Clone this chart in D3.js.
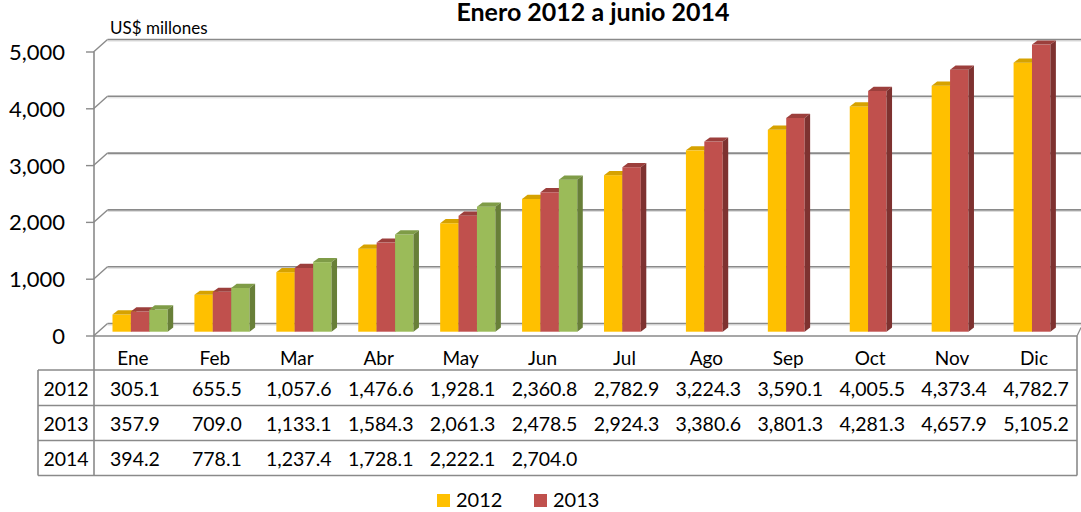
<!DOCTYPE html>
<html>
<head>
<meta charset="utf-8">
<script src="https://cdn.jsdelivr.net/npm/d3@7"></script>
<style>
  body { margin: 0; background: #fff; }
  svg text { font-family: Lato, "Noto Sans", sans-serif; fill: #000; }
</style>
</head>
<body>
<div id="chart"></div>
<script>
var months = ['Ene', 'Feb', 'Mar', 'Abr', 'May', 'Jun', 'Jul', 'Ago', 'Sep', 'Oct', 'Nov', 'Dic'];
var years = ['2012', '2013', '2014'];
var v2012 = [305.1, 655.5, 1057.6, 1476.6, 1928.1, 2360.8, 2782.9, 3224.3, 3590.1, 4005.5, 4373.4, 4782.7];
var v2013 = [357.9, 709.0, 1133.1, 1584.3, 2061.3, 2478.5, 2924.3, 3380.6, 3801.3, 4281.3, 4657.9, 5105.2];
var v2014 = [394.2, 778.1, 1237.4, 1728.1, 2222.1, 2704.0];
var yTicks = [0, 1000, 2000, 3000, 4000, 5000];
var legendYears = ['2012', '2013'];

var series = [v2012, v2013, v2014];
var front = ['#FFC000', '#C0504D', '#9BBB59'];
var topC = ['#D6A200', '#9C3F3C', '#7F9C47'];
var sideC = ['#B08500', '#7E3230', '#687F38'];

var W = 1081, H = 512;
var svg = d3.select('#chart').append('svg')
  .attr('width', W).attr('height', H);

var x0 = 94, x1 = 1077;
var dxW = 13.5, dyW = -12.5;   // wall depth
var grid = '#8a8a8a';

var x = d3.scaleBand().domain(months).range([x0, x1]);
var xs = d3.scaleBand().domain(years).range([0, 55.2]);
var yAxis = d3.scaleLinear().domain([0, 5000]).range([336, 52]);
var yBar = d3.scaleLinear().domain([0, 5000]).range([331.7, 50.5]);

// title
svg.append('text').attr('x', 593).attr('y', 21).attr('text-anchor', 'middle')
  .attr('font-size', 25).attr('font-weight', 'bold').text('Enero 2012 a junio 2014');
svg.append('text').attr('x', 110).attr('y', 34).attr('font-size', 17).text('US$ millones');

// back wall gridlines
var g = svg.append('g');
yTicks.forEach(function(t) {
  var yf = yAxis(t), yb = yf + dyW;
  g.append('line').attr('x1', x0 + dxW).attr('x2', W).attr('y1', yb + 1.5).attr('y2', yb + 1.5)
    .attr('stroke', '#d9d9d9').attr('stroke-width', 1);
  g.append('line').attr('x1', x0 + dxW).attr('x2', W).attr('y1', yb).attr('y2', yb)
    .attr('stroke', grid).attr('stroke-width', 1.6);
  g.append('line').attr('x1', x0 - 0.5).attr('y1', yf).attr('x2', x0 + dxW).attr('y2', yb)
    .attr('stroke', grid).attr('stroke-width', 1.4);
  g.append('line').attr('x1', x0 - 8).attr('x2', x0).attr('y1', yf).attr('y2', yf)
    .attr('stroke', grid).attr('stroke-width', 1.4);
  g.append('text').attr('x', 65).attr('y', yf + 8).attr('text-anchor', 'end')
    .attr('font-size', 22).text(d3.format(',')(t));
});

// bars
var dxB = 5.5, dyB = -4.2;
series.forEach(function(vals, s) {
  var bars = svg.append('g').selectAll('g').data(vals).enter().append('g');
  bars.each(function(v, i) {
    var sel = d3.select(this);
    var bx = x(months[i]) + 18.5 + xs(years[s]);
    var bw = xs.bandwidth();
    var yt = yBar(v), yb = yBar(0);
    sel.append('rect').attr('x', bx).attr('y', yt).attr('width', bw).attr('height', yb - yt)
      .attr('fill', front[s]);
    sel.append('path').attr('d', 'M' + bx + ',' + yt + 'L' + (bx + bw) + ',' + yt +
      'L' + (bx + bw + dxB) + ',' + (yt + dyB) + 'L' + (bx + dxB) + ',' + (yt + dyB) + 'Z')
      .attr('fill', topC[s]);
    sel.append('path').attr('d', 'M' + (bx + bw) + ',' + yt + 'L' + (bx + bw + dxB) + ',' + (yt + dyB) +
      'L' + (bx + bw + dxB) + ',' + (yb + dyB) + 'L' + (bx + bw) + ',' + yb + 'Z')
      .attr('fill', sideC[s]);
  });
});

// axis and table lines
var rows = [336, 370, 405.5, 440.5, 475.5];
svg.append('line').attr('x1', x0).attr('x2', x0).attr('y1', yAxis(5000)).attr('y2', rows[4])
  .attr('stroke', grid).attr('stroke-width', 1.6);
svg.append('line').attr('x1', x0).attr('x2', x1).attr('y1', rows[0]).attr('y2', rows[0])
  .attr('stroke', grid).attr('stroke-width', 1.6);
svg.append('line').attr('x1', x1).attr('y1', rows[0]).attr('x2', W).attr('y2', rows[0] + dyW + 4)
  .attr('stroke', grid).attr('stroke-width', 1.2);
rows.slice(1).forEach(function(r) {
  svg.append('line').attr('x1', 38).attr('x2', x1).attr('y1', r).attr('y2', r)
    .attr('stroke', grid).attr('stroke-width', 1.6);
});
svg.append('line').attr('x1', 38).attr('x2', 38).attr('y1', rows[1]).attr('y2', rows[4])
  .attr('stroke', grid).attr('stroke-width', 1.6);
svg.append('line').attr('x1', x1).attr('x2', x1).attr('y1', rows[0]).attr('y2', rows[4])
  .attr('stroke', grid).attr('stroke-width', 1.6);

// table text
var fmt = d3.format(',.1f');
svg.append('g').selectAll('text').data(months).enter().append('text')
  .attr('x', function(d) { return x(d) + x.bandwidth() / 2 - 2; })
  .attr('y', 365).attr('text-anchor', 'middle').attr('font-size', 19).text(function(d) { return d; });
series.forEach(function(vals, s) {
  var yy = rows[s + 1] + 25.5;
  svg.append('text').attr('x', 66).attr('y', yy).attr('text-anchor', 'middle')
    .attr('font-size', 19.5).text(years[s]);
  svg.append('g').selectAll('text').data(vals).enter().append('text')
    .attr('x', function(d, i) { return x(months[i]) + x.bandwidth() / 2; })
    .attr('y', yy).attr('text-anchor', 'middle').attr('font-size', 19.5)
    .text(function(d) { return fmt(d); });
});

// legend
var lx = [437, 534];
legendYears.forEach(function(yr, i) {
  svg.append('rect').attr('x', lx[i]).attr('y', 494).attr('width', 13).attr('height', 13)
    .attr('fill', front[i]);
  svg.append('text').attr('x', lx[i] + 19).attr('y', 507).attr('font-size', 20).text(yr);
});
</script>
</body>
</html>
